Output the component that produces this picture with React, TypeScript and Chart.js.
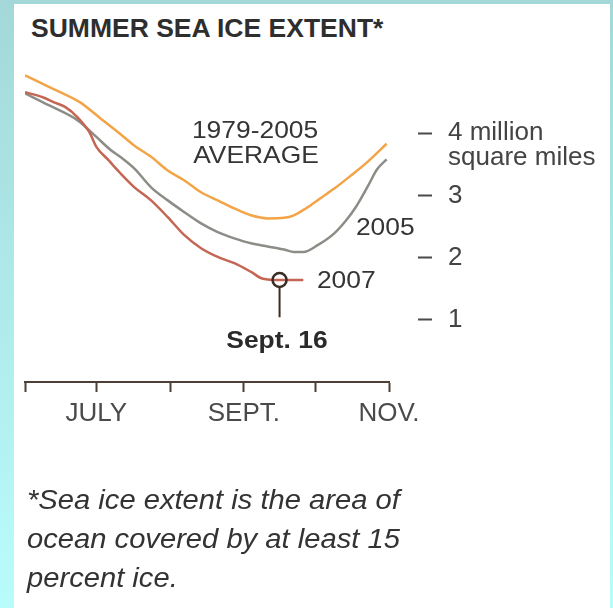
import React, { useEffect, useRef } from "react";
import { Chart, registerables } from "chart.js";

Chart.register(...registerables);

// x values are days counted from June 1
const averageDays = [0, 12, 23, 32, 39, 46, 53, 60, 67, 74, 81, 88, 95, 102, 109, 113, 118, 124, 130, 137, 144, 152];
const averageValues = [4.93, 4.71, 4.5, 4.23, 4.02, 3.8, 3.62, 3.4, 3.24, 3.05, 2.92, 2.79, 2.68, 2.63, 2.64, 2.68, 2.79, 2.95, 3.11, 3.32, 3.54, 3.83];

const days2005 = [0, 10, 22, 30, 36, 40, 46, 53, 60, 67, 74, 81, 88, 95, 102, 109, 113, 117, 123, 130, 135, 139, 144, 148, 152];
const values2005 = [4.64, 4.45, 4.21, 3.94, 3.73, 3.62, 3.43, 3.13, 2.92, 2.73, 2.55, 2.41, 2.31, 2.23, 2.18, 2.13, 2.09, 2.09, 2.2, 2.39, 2.6, 2.81, 3.14, 3.42, 3.58];

const days2007 = [0, 8, 12, 17, 22, 27, 30, 35, 40, 46, 53, 60, 67, 74, 81, 88, 95, 100, 107, 117];
const values2007 = [4.66, 4.57, 4.5, 4.42, 4.26, 4.02, 3.78, 3.57, 3.36, 3.13, 2.92, 2.65, 2.36, 2.15, 2.01, 1.91, 1.77, 1.66, 1.64, 1.64];

// Sept. 16 minimum marker
const minimumDays = [107];
const minimumValues = [1.64];
const stemValues = [1.52, 1.04];

const monthTickDays = [0, 30, 61, 92, 122, 153];
const monthTickLabels = ["", "JULY", "", "SEPT.", "", "NOV."];

const yTickValues = [1, 2, 3, 4];
const yTickLabels: (string | string[])[] = ["1", "2", "3", ["", "4 million", "square miles"]];

const annotationTexts = ["1979-2005", "AVERAGE", "2005", "2007", "Sept. 16"];

const FONT = "'Liberation Sans', Arial, Helvetica, sans-serif";
const AXIS_COLOR = "#4b3f37";
const TEXT_COLOR = "#353535";

// label anchors in data units
const annotationAnchors = [
  { day: 96.7, value: 3.92, align: "center", bold: false },
  { day: 97.1, value: 3.52, align: "center", bold: false },
  { day: 139.1, value: 2.36, align: "left", bold: false },
  { day: 122.7, value: 1.51, align: "left", bold: false },
  { day: 105.9, value: 0.55, align: "center", bold: true },
];

const textPlugin = {
  id: "annotationText",
  afterDraw(chart: any) {
    const { ctx, scales } = chart;
    const xs = scales.x;
    const ys = scales.y;
    annotationTexts.forEach((text, i) => {
      const a = annotationAnchors[i];
      ctx.save();
      ctx.translate(xs.getPixelForValue(a.day), ys.getPixelForValue(a.value));
      ctx.scale(1.1, 1);
      ctx.font = `${a.bold ? "bold " : ""}24px ${FONT}`;
      ctx.textAlign = a.align;
      ctx.textBaseline = "alphabetic";
      ctx.fillStyle = a.bold ? "#2a2a2a" : TEXT_COLOR;
      ctx.fillText(text, 0, 0);
      ctx.restore();
    });
  },
};

const toPoints = (xs: number[], ys: number[]) => xs.map((x, i) => ({ x, y: ys[i] }));

export default function App() {
  const canvasRef = useRef<HTMLCanvasElement>(null);

  useEffect(() => {
    if (!canvasRef.current) return;
    const chart = new Chart(canvasRef.current, {
      type: "line",
      data: {
        datasets: [
          {
            label: "Sept. 16",
            data: toPoints(minimumDays, minimumValues),
            showLine: false,
            pointRadius: 7,
            pointBorderWidth: 2.5,
            pointBorderColor: "#3a2d25",
            pointBackgroundColor: "rgba(255,255,255,0)",
            order: 0,
          },
          {
            label: "stem",
            data: toPoints([minimumDays[0], minimumDays[0]], stemValues),
            borderColor: "#3a2d25",
            borderWidth: 2,
            pointRadius: 0,
            order: 1,
          },
          {
            label: "2007",
            data: toPoints(days2007, values2007),
            borderColor: "#c46653",
            borderWidth: 2.5,
            pointRadius: 0,
            cubicInterpolationMode: "monotone",
            order: 2,
          },
          {
            label: "2005",
            data: toPoints(days2005, values2005),
            borderColor: "#8d8d87",
            borderWidth: 2.5,
            pointRadius: 0,
            cubicInterpolationMode: "monotone",
            order: 3,
          },
          {
            label: "1979-2005 average",
            data: toPoints(averageDays, averageValues),
            borderColor: "#f2a446",
            borderWidth: 2.5,
            pointRadius: 0,
            cubicInterpolationMode: "monotone",
            order: 4,
          },
        ],
      },
      options: {
        animation: false,
        responsive: true,
        maintainAspectRatio: false,
        events: [],
        layout: { padding: { left: 25, top: 71, right: 0, bottom: 166 } },
        plugins: {
          legend: { display: false },
          tooltip: { enabled: false },
          title: { display: false },
        },
        scales: {
          x: {
            type: "linear",
            position: "bottom",
            min: monthTickDays[0],
            max: monthTickDays[monthTickDays.length - 1],
            afterBuildTicks: (scale: any) => {
              scale.ticks = monthTickDays.map((v) => ({ value: v }));
            },
            afterFit: (scale: any) => {
              scale.height = 60;
            },
            grid: {
              drawOnChartArea: false,
              drawTicks: true,
              tickLength: 10,
              tickColor: AXIS_COLOR,
              tickWidth: 2,
            },
            border: { display: true, color: AXIS_COLOR, width: 2 },
            ticks: {
              autoSkip: false,
              maxRotation: 0,
              padding: 6,
              color: "#4a4a4a",
              font: { family: FONT, size: 26 },
              callback: (value: any) => {
                const idx = monthTickDays.indexOf(Number(value));
                return idx >= 0 ? monthTickLabels[idx] : "";
              },
            },
          },
          y: {
            type: "linear",
            position: "right",
            min: 0,
            max: 5,
            afterBuildTicks: (scale: any) => {
              scale.ticks = yTickValues.map((v) => ({ value: v }));
            },
            afterFit: (scale: any) => {
              scale.width = 224;
            },
            grid: {
              drawOnChartArea: false,
              drawTicks: true,
              tickLength: 44,
              tickColor: "#4a4a4a",
              tickWidth: 2,
              tickBorderDash: [0, 29, 14, 1000],
            },
            border: { display: false },
            ticks: {
              padding: 15,
              color: "#444444",
              font: { family: FONT, size: 26, lineHeight: 0.95 },
              callback: (value: any) => {
                const idx = yTickValues.indexOf(Number(value));
                return idx >= 0 ? yTickLabels[idx] : "";
              },
            },
          },
        },
      } as any,
      plugins: [textPlugin],
    });
    return () => chart.destroy();
  }, []);

  return (
    <div
      style={{
        position: "fixed",
        left: 0,
        top: 0,
        width: 613,
        height: 608,
        overflow: "hidden",
        background: "linear-gradient(to bottom, #a4d8d8 0%, #afeaea 50%, #b9fcfc 100%)",
      }}
    >
      <div style={{ position: "absolute", left: 14, top: 4, width: 596, height: 604, background: "#ffffff" }} />
      <div
        style={{
          position: "absolute",
          left: 31,
          top: 16,
          fontFamily: FONT,
          fontWeight: "bold",
          fontSize: 25,
          lineHeight: "25px",
          color: "#2e2e2e",
          whiteSpace: "nowrap",
          transform: "scaleX(1.06)",
          transformOrigin: "0 0",
        }}
      >
        SUMMER SEA ICE EXTENT*
      </div>
      <div style={{ position: "absolute", left: 0, top: 0, width: 613, height: 608 }}>
        <canvas ref={canvasRef} />
      </div>
      <div
        style={{
          position: "absolute",
          left: 27,
          top: 481,
          fontFamily: FONT,
          fontStyle: "italic",
          fontSize: 27,
          lineHeight: "39px",
          color: "#333333",
          whiteSpace: "nowrap",
          transform: "scaleX(1.08)",
          transformOrigin: "0 0",
        }}
      >
        *Sea ice extent is the area of
        <br />
        ocean covered by at least 15
        <br />
        percent ice.
      </div>
    </div>
  );
}
